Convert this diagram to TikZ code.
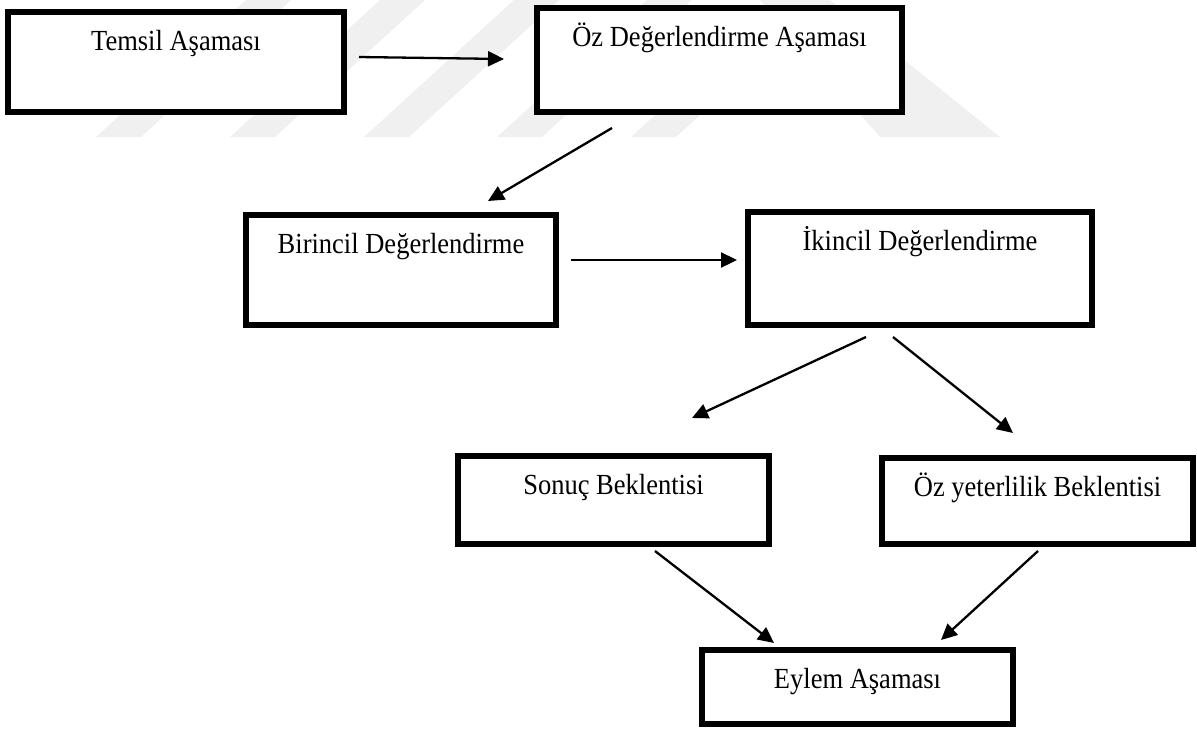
\documentclass[tikz,border=0pt]{standalone}
\usepackage{fontspec}
\setmainfont{Liberation Serif}
\usetikzlibrary{arrows.meta}
\newcommand\vtxt[1]{\scalebox{1}[1.1]{#1}}
\begin{document}
\begin{tikzpicture}[x=1pt,y=-1pt,
  box/.style={draw, fill=white, line width=6pt, inner xsep=0pt, inner ysep=0pt,
    outer sep=0pt, anchor=north west, text height=38.5pt,
    font=\fontsize{26.5}{30}\selectfont},
  conn/.style={line width=2.3pt, -{Triangle[length=16pt,width=15pt]}},
  wm/.style={fill=black!6, draw=none}]
\useasboundingbox (0,0) rectangle (1197,729);
% faint watermark stripes
\foreach \b in {96,230,364,497,631}{
  \fill[wm] (\b,137) -- (\b+45,137) -- (\b+195,0) -- (\b+150,0) -- cycle;
}
\fill[wm] (760,0) -- (830,0) -- (1000,137) -- (880,137) -- cycle;
% boxes
\node[box, minimum width=336pt, text depth=61.5pt] (T) at (8,12) {\vtxt{Temsil Aşaması}};
\node[box, minimum width=365pt, text depth=65.5pt] (O) at (537,8) {\vtxt{Öz Değerlendirme Aşaması}};
\node[box, minimum width=310pt, text depth=71.5pt] (B) at (246,215) {\vtxt{Birincil Değerlendirme}};
\node[box, minimum width=344pt, text depth=74.5pt] (I) at (748,212) {\vtxt{İkincil Değerlendirme}};
\node[box, minimum width=311pt, text depth=49.5pt] (S) at (458,456) {\vtxt{Sonuç Beklentisi}};
\node[box, minimum width=311pt, text depth=47.5pt] (Y) at (882,458) {\vtxt{Öz yeterlilik Beklentisi}};
\node[box, minimum width=311pt, text depth=35.5pt] (E) at (702,650) {\vtxt{Eylem Aşaması}};
% connector end points
\coordinate (a1s) at (359,57);   \coordinate (a1e) at (504,59);
\coordinate (a2s) at (612,128);  \coordinate (a2e) at (488,201);
\coordinate (a3s) at (571,260);  \coordinate (a3e) at (737,260);
\coordinate (a4s) at (866,337);  \coordinate (a4e) at (692,418);
\coordinate (a5s) at (893,337);  \coordinate (a5e) at (1013,433);
\coordinate (a6s) at (655,551);  \coordinate (a6e) at (774,643);
\coordinate (a7s) at (1038,551); \coordinate (a7e) at (941,640);
\draw[conn] (a1s) -- (a1e);
\draw[conn] (a2s) -- (a2e);
\draw[conn] (a3s) -- (a3e);
\draw[conn] (a4s) -- (a4e);
\draw[conn] (a5s) -- (a5e);
\draw[conn] (a6s) -- (a6e);
\draw[conn] (a7s) -- (a7e);
\end{tikzpicture}
\end{document}
